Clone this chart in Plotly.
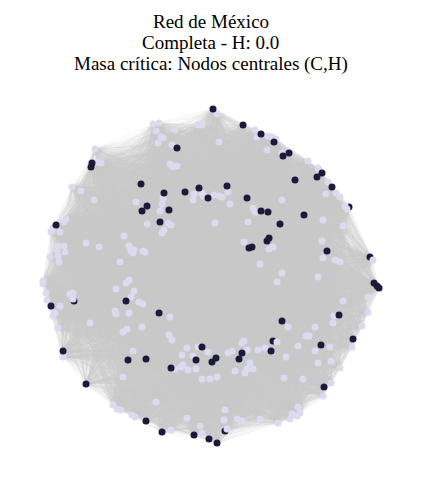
import plotly.graph_objects as go

title_lines = ["Red de México", "Completa - H: 0.0", "Masa crítica: Nodos centrales (C,H)"]

# layout positions of the nodes (y grows downwards)
# ordinary nodes
other_x = [153, 159, 156, 161, 163, 158, 175, 172, 198, 202,
           95, 97, 101, 170, 173, 177, 72, 81, 94,
           163, 162, 136, 160, 194, 202, 204, 193,
           147, 168, 171, 164, 162, 66, 64, 53, 51, 60,
           124, 86, 99, 129, 131, 134, 133, 143, 145,
           58, 64, 57, 65, 50, 58, 59, 120,
           217, 255, 257, 268, 272, 276, 267, 219, 282,
           308, 318, 319, 328, 326, 336, 340, 345, 347,
           228, 203, 214, 219, 222, 230, 282, 253, 255,
           323, 248, 215, 343, 244, 273, 269, 322, 323,
           335, 340, 373, 260, 282,
           43, 43, 46, 47, 70, 73, 73, 60, 55, 53, 58, 90,
           126, 129, 116, 134, 131, 139, 143, 115, 116, 129,
           170, 142, 123, 127, 169, 172, 63, 133, 175,
           187, 198, 208, 182, 193, 183, 188, 196, 181,
           202, 210, 123, 156, 113, 117, 121, 132, 135,
           187, 171, 200, 202,
           277, 318, 368, 343, 368, 334, 333, 362,
           288, 315, 352, 306, 309, 277, 298, 330, 315,
           258, 265, 286, 242, 244, 247, 228, 232, 217,
           250, 247, 253, 245, 235, 318, 331, 340, 284,
           303, 331, 323, 225, 224, 237, 242, 260, 278,
           298, 292, 290, 300, 297, 227]
other_y = [124, 123, 131, 137, 138, 143, 130, 145, 125, 125,
           149, 162, 163, 164, 167, 166, 187, 191, 200,
           198, 204, 202, 211, 194, 193, 196, 200,
           224, 223, 225, 230, 233, 219, 222, 228, 232, 232,
           236, 243, 247, 246, 251, 250, 253, 251, 252,
           246, 246, 250, 252, 257, 256, 262, 262,
           114, 130, 137, 136, 137, 139, 150, 142, 153,
           161, 168, 170, 182, 194, 193, 197, 206, 209,
           192, 195, 195, 196, 197, 204, 200, 208, 212,
           220, 222, 223, 226, 242, 247, 249, 241, 258,
           260, 262, 260, 264, 273,
           281, 284, 293, 300, 294, 293, 299, 306, 313, 316, 328, 323,
           283, 280, 289, 291, 297, 302, 304, 311, 314, 313,
           317, 327, 332, 329, 335, 340, 357, 351, 369,
           348, 347, 352, 355, 356, 365, 370, 369, 367,
           379, 379, 377, 402, 405, 409, 410, 415, 417,
           418, 430, 426, 433,
           282, 277, 297, 301, 312, 316, 323, 326,
           327, 327, 347, 336, 336, 342, 346, 347, 351,
           350, 348, 357, 343, 341, 350, 353, 351, 377,
           363, 369, 369, 373, 371, 363, 361, 368, 378,
           379, 383, 396, 410, 420, 419, 421, 419, 423,
           407, 414, 419, 413, 416, 429]

# central nodes (C,H)
central_x = [177, 92, 91, 141, 164, 147, 142, 169, 185, 199, 208, 160, 56,
             213, 243, 261, 274, 289, 283, 322, 317, 295, 332,
             227, 247, 261, 268, 304, 280, 269, 267, 252, 249, 327,
             51, 126, 159, 63, 128, 146, 171, 202, 196, 212, 216,
             86, 146, 162, 194, 209,
             374, 377, 379, 339, 282, 353, 321, 271, 242, 239, 324, 217]
central_y = [148, 163, 167, 184, 193, 206, 211, 210, 192, 188, 198, 222, 225,
             109, 125, 134, 142, 153, 156, 173, 177, 180, 187,
             186, 198, 211, 212, 215, 224, 238, 241, 247, 248, 251,
             306, 301, 313, 351, 360, 359, 368, 347, 360, 362, 358,
             384, 421, 432, 435, 439,
             283, 286, 288, 315, 321, 339, 345, 351, 353, 359, 387, 443]
# central nodes partly covered by an ordinary node
central_back_x = [74, 349, 370, 273, 225]
central_back_y = [301, 207, 257, 341, 431]

node_x = central_back_x + other_x + central_x
node_y = central_back_y + other_y + central_y

fig = go.Figure()

# complete graph: every pair of nodes is linked. Edges are split over
# several traces so that overlapping lines darken like in the original
n = len(node_x)
n_layers = 20
layers = [([], []) for _ in range(n_layers)]
for i in range(n):
    for j in range(i + 1, n):
        ex, ey = layers[(i * 7 + j) % n_layers]
        ex += [node_x[i], node_x[j], None]
        ey += [node_y[i], node_y[j], None]

for ex, ey in layers:
    fig.add_trace(go.Scatter(
        x=ex, y=ey, mode="lines",
        line=dict(color="rgba(204,204,204,0.22)", width=0.5, simplify=False),
        hoverinfo="skip", showlegend=False))

node_groups = [
    (central_back_x, central_back_y, "#1c1a3b", "Nodos centrales"),
    (other_x, other_y, "#dbdaee", "Nodos"),
    (central_x, central_y, "#1c1a3b", "Nodos centrales"),
]
for gx, gy, color, name in node_groups:
    fig.add_trace(go.Scatter(
        x=gx, y=gy, mode="markers", name=name,
        marker=dict(size=7, color=color, line=dict(width=0)),
        showlegend=False))

# title lines sit just below the top of the figure
for k, line in enumerate(title_lines):
    fig.add_annotation(
        x=210.5, y=9 + 20.8 * k, xref="x", yref="y", text=line,
        showarrow=False, xanchor="center", yanchor="top",
        font=dict(family="Liberation Serif", size=19, color="black"))

# the page keeps an 8px body margin, so the figure starts at (8, 8)
fig.update_xaxes(visible=False, range=[8, 421])
fig.update_yaxes(visible=False, range=[486, 8])
fig.update_layout(
    width=413, height=478,
    margin=dict(l=0, r=0, t=0, b=0),
    plot_bgcolor="white", paper_bgcolor="white")

fig.write_html("out.html")
